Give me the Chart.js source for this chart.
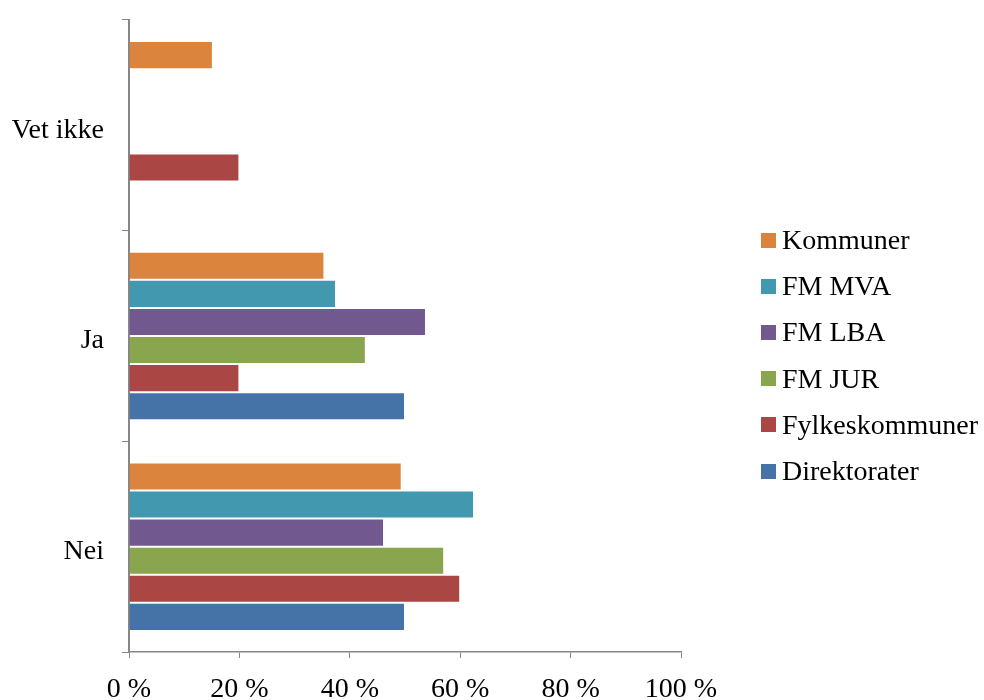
<!DOCTYPE html>
<html lang="no">
<head>
    <meta charset="UTF-8">
    <title>Svar</title>
    <script src="https://cdn.jsdelivr.net/npm/chart.js"></script>
    <style>
        body {
            margin: 0;
            background-color: #ffffff;
        }

        #chartContainer {
            position: relative;
            width: 984px;
            height: 700px;
        }

        #legend {
            position: absolute;
            left: 761px;
            top: 217px;
            font-family: "Liberation Serif", "DejaVu Serif", serif;
            font-size: 28px;
            color: #000;
        }

        #legend .item {
            display: flex;
            align-items: center;
            height: 46.2px;
        }

        #legend .box {
            width: 15px;
            height: 15px;
            margin-right: 6px;
            flex: none;
        }
    </style>
</head>
<body>
<div id="chartContainer">
    <canvas id="svarChart" width="984" height="700"></canvas>
    <div id="legend"></div>
</div>

<script>
    // kategorier (ovenfra og ned)
    const categories = ['Vet ikke', 'Ja', 'Nei'];

    // verdier i prosent, per gruppe
    const kommuner = [15.2, 35.4, 49.4];
    const fmMva = [null, 37.5, 62.5];
    const fmLba = [null, 53.8, 46.2];
    const fmJur = [null, 42.9, 57.1];
    const fylkeskommuner = [20, 20, 60];
    const direktorater = [null, 50, 50];

    const xTicks = [0, 20, 40, 60, 80, 100];

    const axisGrey = '#868686';
    const fontFamily = '"Liberation Serif", "DejaVu Serif", serif';

    function serie(label, data, color) {
        return {
            label: label,
            data: data,
            backgroundColor: color,
            borderColor: 'rgba(255,255,255,0.45)',
            borderWidth: 1,
            categoryPercentage: 0.8,
            barPercentage: 1.0
        };
    }

    const chart = new Chart(document.getElementById('svarChart'), {
        type: 'bar',
        data: {
            labels: categories,
            datasets: [
                serie('Kommuner', kommuner, '#DB843D'),
                serie('FM MVA', fmMva, '#4198AF'),
                serie('FM LBA', fmLba, '#71588F'),
                serie('FM JUR', fmJur, '#89A54E'),
                serie('Fylkeskommuner', fylkeskommuner, '#AA4643'),
                serie('Direktorater', direktorater, '#4572A7')
            ]
        },
        options: {
            indexAxis: 'y',
            responsive: false,
            animation: false,
            layout: {
                padding: {top: 20, left: 12, right: 303, bottom: 0}
            },
            scales: {
                x: {
                    min: 0,
                    max: 100,
                    afterBuildTicks: function (axis) {
                        axis.ticks = xTicks.map(v => ({value: v}));
                    },
                    afterFit: function (axis) {
                        axis.height = 48;
                        axis.paddingLeft = 0;
                        axis.paddingRight = 0;
                    },
                    grid: {
                        drawOnChartArea: false,
                        drawTicks: true,
                        tickLength: 6,
                        color: axisGrey
                    },
                    border: {color: axisGrey, width: 1.5},
                    ticks: {
                        color: '#000',
                        padding: 15,
                        maxRotation: 0,
                        font: {family: fontFamily, size: 28},
                        callback: v => v + ' %'
                    }
                },
                y: {
                    afterFit: function (axis) {
                        axis.width = 117;
                        axis.paddingTop = 0;
                        axis.paddingBottom = 0;
                    },
                    grid: {
                        offset: true,
                        drawOnChartArea: false,
                        drawTicks: true,
                        tickLength: 7,
                        color: axisGrey
                    },
                    border: {color: axisGrey, width: 2},
                    ticks: {
                        color: '#000',
                        padding: 18,
                        labelOffset: 5,
                        font: {family: fontFamily, size: 28}
                    }
                }
            },
            plugins: {
                legend: {display: false},
                tooltip: {enabled: false}
            }
        }
    });

    // egen forklaring til høyre
    const legendEl = document.getElementById('legend');
    chart.data.datasets.forEach(ds => {
        const item = document.createElement('div');
        item.className = 'item';
        const box = document.createElement('span');
        box.className = 'box';
        box.style.backgroundColor = ds.backgroundColor;
        const text = document.createElement('span');
        text.textContent = ds.label;
        item.appendChild(box);
        item.appendChild(text);
        legendEl.appendChild(item);
    });
</script>
</body>
</html>
